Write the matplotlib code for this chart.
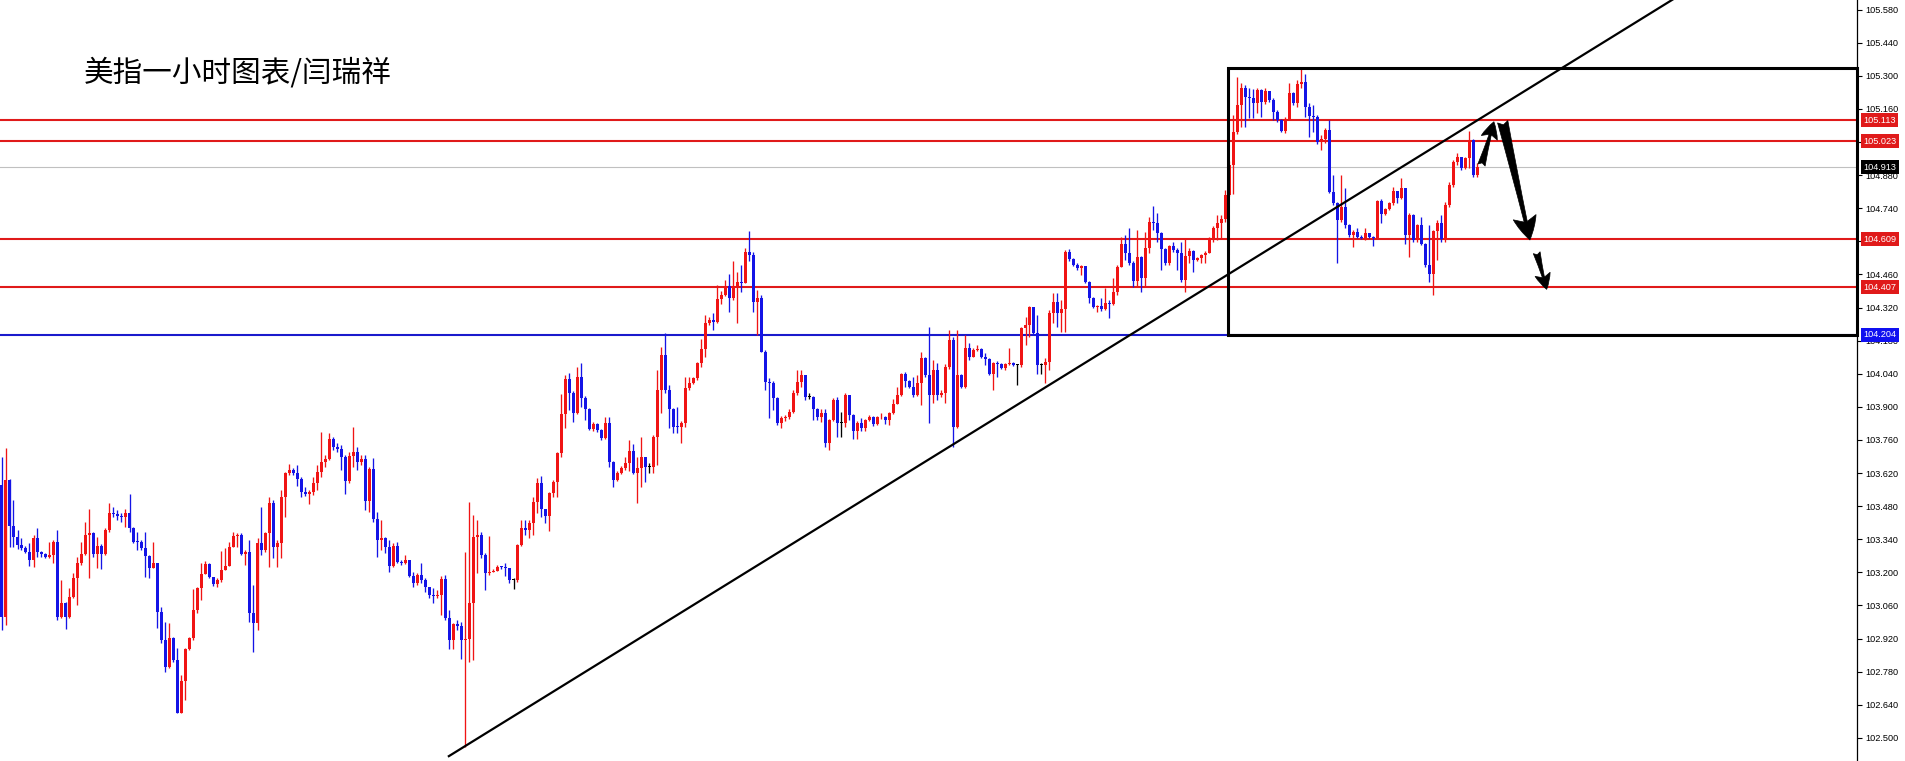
import matplotlib
matplotlib.use("Agg")
import matplotlib.pyplot as plt
from matplotlib.patches import Rectangle
from matplotlib.transforms import blended_transform_factory

TITLE = "美指一小时图表/闫瑞祥"

OPEN0 = 103.569
CLOSES = [
    103.013, 103.591, 103.396, 103.348, 103.316, 103.304, 103.287, 103.252, 103.344, 103.287,
    103.278, 103.266, 103.273, 103.327, 103.013, 103.069, 103.010, 103.097, 103.175, 103.238,
    103.278, 103.358, 103.368, 103.278, 103.313, 103.278, 103.379, 103.452, 103.447, 103.438,
    103.433, 103.450, 103.386, 103.330, 103.327, 103.302, 103.270, 103.217, 103.238, 103.034,
    102.914, 102.801, 102.921, 102.829, 102.606, 102.740, 102.874, 102.921, 103.041, 103.132,
    103.193, 103.235, 103.182, 103.151, 103.168, 103.210, 103.227, 103.309, 103.354, 103.358,
    103.276, 103.287, 103.027, 102.987, 103.326, 103.294, 103.365, 103.492, 103.309, 103.323,
    103.520, 103.619, 103.633, 103.622, 103.595, 103.541, 103.531, 103.538, 103.577, 103.626,
    103.668, 103.678, 103.764, 103.732, 103.720, 103.689, 103.588, 103.692, 103.710, 103.668,
    103.678, 103.503, 103.637, 103.427, 103.337, 103.344, 103.309, 103.228, 103.313, 103.245,
    103.241, 103.252, 103.186, 103.154, 103.189, 103.168, 103.137, 103.104, 103.100, 103.104,
    103.170, 103.005, 102.914, 102.981, 102.973, 102.914, 102.918, 103.072, 103.351, 103.358,
    103.273, 103.196, 103.203, 103.207, 103.224, 103.221, 103.217, 103.168, 103.168, 103.316,
    103.386, 103.379, 103.410, 103.499, 103.577, 103.467, 103.438, 103.534, 103.584, 103.703,
    103.868, 104.016, 103.960, 103.875, 104.025, 103.936, 103.890, 103.805, 103.827, 103.802,
    103.767, 103.830, 103.668, 103.591, 103.622, 103.640, 103.661, 103.713, 103.622, 103.640,
    103.687, 103.647, 103.647, 103.774, 103.971, 104.119, 103.971, 103.890, 103.816, 103.813,
    103.830, 103.978, 103.999, 104.021, 104.084, 104.143, 104.253, 104.267, 104.260, 104.357,
    104.374, 104.413, 104.362, 104.413, 104.430, 104.423, 104.554, 104.543, 104.343, 104.360,
    104.134, 104.007, 104.002, 103.936, 103.830, 103.851, 103.858, 103.880, 103.957, 104.006,
    104.034, 103.943, 103.943, 103.893, 103.858, 103.872, 103.748, 103.844, 103.929, 103.830,
    103.830, 103.950, 103.865, 103.799, 103.830, 103.809, 103.844, 103.858, 103.827, 103.855,
    103.858, 103.844, 103.875, 103.914, 103.950, 104.039, 104.010, 103.985, 103.950, 103.999,
    104.105, 104.034, 103.950, 104.058, 103.950, 103.957, 104.070, 104.182, 103.816, 104.035,
    103.985, 104.148, 104.113, 104.141, 104.143, 104.113, 104.101, 104.041, 104.084, 104.081,
    104.063, 104.081, 104.084, 104.077, 104.077, 104.232, 104.246, 104.321, 104.211, 104.077,
    104.077, 104.091, 104.298, 104.345, 104.295, 104.312, 104.553, 104.524, 104.500, 104.486,
    104.495, 104.429, 104.359, 104.321, 104.326, 104.312, 104.338, 104.335, 104.387, 104.493,
    104.591, 104.552, 104.510, 104.433, 104.535, 104.443, 104.570, 104.683, 104.676, 104.637,
    104.566, 104.507, 104.580, 104.563, 104.549, 104.436, 104.538, 104.559, 104.521, 104.528,
    104.542, 104.552, 104.613, 104.655, 104.676, 104.693, 104.796, 104.923, 105.061, 105.177,
    105.250, 105.212, 105.208, 105.184, 105.240, 105.188, 105.236, 105.198, 105.148, 105.113,
    105.067, 105.117, 105.226, 105.184, 105.264, 105.275, 105.169, 105.131, 105.127, 105.021,
    105.035, 105.071, 104.810, 104.761, 104.690, 104.747, 104.669, 104.627, 104.641, 104.620,
    104.615, 104.634, 104.620, 104.613, 104.770, 104.714, 104.737, 104.761, 104.813, 104.782,
    104.824, 104.627, 104.711, 104.605, 104.669, 104.591, 104.500, 104.464, 104.644, 104.676,
    104.610, 104.754, 104.838, 104.937, 104.958, 104.909, 104.951, 105.028, 104.880, 104.913,
]
HIGHS = [
    103.689, 103.725, 103.595, 103.506, 103.379, 103.344, 103.311, 103.323, 103.358, 103.386,
    103.290, 103.282, 103.330, 103.335, 103.379, 103.168, 103.076, 103.132, 103.199, 103.266,
    103.330, 103.414, 103.467, 103.372, 103.351, 103.320, 103.386, 103.492, 103.475, 103.464,
    103.450, 103.467, 103.530, 103.393, 103.372, 103.337, 103.372, 103.273, 103.327, 103.241,
    103.052, 102.991, 102.987, 102.928, 102.879, 102.766, 102.879, 102.928, 103.128, 103.139,
    103.241, 103.249, 103.238, 103.182, 103.175, 103.292, 103.302, 103.330, 103.372, 103.365,
    103.365, 103.294, 103.337, 103.146, 103.344, 103.478, 103.372, 103.520, 103.506, 103.337,
    103.548, 103.626, 103.657, 103.640, 103.654, 103.605, 103.562, 103.548, 103.605, 103.654,
    103.792, 103.696, 103.788, 103.771, 103.749, 103.739, 103.696, 103.710, 103.813, 103.732,
    103.696, 103.696, 103.647, 103.682, 103.457, 103.421, 103.351, 103.337, 103.323, 103.330,
    103.252, 103.273, 103.252, 103.203, 103.196, 103.238, 103.175, 103.139, 103.132, 103.125,
    103.185, 103.189, 103.041, 102.987, 102.998, 102.991, 103.287, 103.499, 103.443, 103.421,
    103.370, 103.280, 103.354, 103.215, 103.230, 103.228, 103.238, 103.220, 103.176, 103.320,
    103.421, 103.421, 103.420, 103.520, 103.598, 103.608, 103.470, 103.540, 103.591, 103.710,
    103.953, 104.035, 104.045, 103.965, 104.070, 104.084, 103.945, 103.895, 103.835, 103.830,
    103.805, 103.859, 103.859, 103.670, 103.630, 103.648, 103.689, 103.760, 103.743, 103.689,
    103.774, 103.690, 103.661, 103.780, 104.056, 104.155, 104.211, 103.992, 103.895, 103.900,
    103.840, 104.028, 104.025, 104.028, 104.090, 104.186, 104.289, 104.281, 104.295, 104.416,
    104.388, 104.437, 104.461, 104.517, 104.472, 104.498, 104.571, 104.644, 104.555, 104.395,
    104.375, 104.140, 104.020, 104.010, 103.940, 103.860, 103.865, 103.890, 103.971, 104.056,
    104.056, 104.034, 103.957, 103.945, 103.895, 103.893, 103.893, 103.850, 103.936, 103.943,
    103.879, 103.957, 103.950, 103.870, 103.840, 103.851, 103.850, 103.865, 103.860, 103.860,
    103.872, 103.862, 103.880, 103.935, 103.985, 104.042, 104.048, 104.012, 104.027, 104.034,
    104.133, 104.112, 104.239, 104.098, 104.084, 103.971, 104.080, 104.225, 104.197, 104.225,
    104.040, 104.204, 104.169, 104.148, 104.162, 104.150, 104.126, 104.105, 104.090, 104.095,
    104.085, 104.086, 104.147, 104.088, 104.082, 104.239, 104.281, 104.328, 104.321, 104.288,
    104.085, 104.105, 104.310, 104.380, 104.380, 104.352, 104.563, 104.566, 104.528, 104.507,
    104.500, 104.497, 104.433, 104.365, 104.330, 104.360, 104.401, 104.350, 104.443, 104.500,
    104.620, 104.627, 104.655, 104.515, 104.648, 104.540, 104.641, 104.704, 104.749, 104.718,
    104.640, 104.570, 104.584, 104.598, 104.570, 104.598, 104.613, 104.570, 104.562, 104.535,
    104.548, 104.560, 104.620, 104.665, 104.711, 104.711, 104.817, 104.940, 105.134, 105.296,
    105.268, 105.261, 105.247, 105.244, 105.247, 105.245, 105.247, 105.219, 105.205, 105.155,
    105.118, 105.125, 105.268, 105.230, 105.282, 105.332, 105.306, 105.184, 105.177, 105.134,
    105.050, 105.078, 105.113, 104.880, 104.766, 104.880, 104.824, 104.672, 104.650, 104.655,
    104.625, 104.655, 104.637, 104.622, 104.775, 104.778, 104.740, 104.768, 104.831, 104.815,
    104.866, 104.826, 104.720, 104.715, 104.675, 104.704, 104.595, 104.669, 104.650, 104.690,
    104.711, 104.768, 104.852, 104.944, 104.972, 104.958, 104.958, 105.067, 105.035, 104.930,
]
LOWS = [
    102.956, 102.977, 103.309, 103.309, 103.297, 103.294, 103.283, 103.228, 103.224, 103.266,
    103.266, 103.260, 103.259, 103.238, 102.998, 103.006, 102.959, 103.006, 103.090, 103.062,
    103.231, 103.273, 103.175, 103.266, 103.217, 103.213, 103.273, 103.372, 103.436, 103.421,
    103.414, 103.393, 103.372, 103.323, 103.294, 103.294, 103.182, 103.175, 103.224, 102.963,
    102.900, 102.780, 102.794, 102.822, 102.606, 102.606, 102.660, 102.871, 102.914, 103.027,
    103.083, 103.196, 103.175, 103.142, 103.139, 103.161, 103.210, 103.227, 103.309, 103.309,
    103.273, 103.231, 102.991, 102.865, 102.956, 103.273, 103.287, 103.224, 103.259, 103.224,
    103.259, 103.435, 103.612, 103.612, 103.565, 103.520, 103.523, 103.489, 103.527, 103.548,
    103.605, 103.647, 103.675, 103.718, 103.710, 103.633, 103.530, 103.577, 103.647, 103.633,
    103.654, 103.464, 103.457, 103.414, 103.266, 103.294, 103.280, 103.203, 103.224, 103.238,
    103.231, 103.235, 103.182, 103.139, 103.146, 103.154, 103.118, 103.090, 103.069, 103.090,
    103.020, 102.998, 102.874, 102.874, 102.956, 102.832, 102.463, 102.822, 102.829, 103.196,
    103.260, 103.125, 103.190, 103.200, 103.205, 103.215, 103.185, 103.154, 103.128, 103.160,
    103.310, 103.358, 103.344, 103.358, 103.450, 103.436, 103.410, 103.375, 103.520, 103.520,
    103.690, 103.809, 103.887, 103.837, 103.870, 103.900, 103.844, 103.802, 103.800, 103.795,
    103.760, 103.762, 103.647, 103.562, 103.588, 103.615, 103.635, 103.630, 103.615, 103.492,
    103.562, 103.584, 103.619, 103.619, 103.654, 103.873, 103.960, 103.809, 103.788, 103.788,
    103.749, 103.816, 103.970, 103.995, 104.014, 104.070, 104.112, 104.245, 104.225, 104.254,
    104.334, 104.367, 104.303, 104.352, 104.254, 104.385, 104.430, 104.515, 104.303, 104.204,
    104.130, 103.971, 103.852, 103.887, 103.823, 103.809, 103.840, 103.850, 103.875, 103.950,
    103.985, 103.929, 103.935, 103.844, 103.844, 103.837, 103.731, 103.717, 103.840, 103.774,
    103.774, 103.816, 103.844, 103.766, 103.766, 103.800, 103.800, 103.840, 103.820, 103.822,
    103.850, 103.827, 103.823, 103.870, 103.910, 103.945, 103.985, 103.978, 103.943, 103.945,
    103.907, 104.027, 103.830, 103.915, 103.929, 103.940, 103.915, 104.060, 103.731, 103.810,
    103.978, 103.980, 104.098, 104.126, 104.135, 104.105, 104.077, 104.034, 103.971, 104.027,
    104.060, 104.058, 104.078, 104.072, 103.992, 104.070, 104.162, 104.197, 104.205, 104.041,
    104.041, 104.000, 104.055, 104.253, 104.239, 104.218, 104.218, 104.515, 104.495, 104.478,
    104.457, 104.422, 104.338, 104.320, 104.300, 104.305, 104.310, 104.274, 104.330, 104.373,
    104.490, 104.521, 104.500, 104.408, 104.408, 104.387, 104.408, 104.550, 104.648, 104.598,
    104.479, 104.500, 104.500, 104.556, 104.479, 104.430, 104.387, 104.507, 104.472, 104.515,
    104.507, 104.507, 104.549, 104.598, 104.606, 104.612, 104.680, 104.790, 104.800, 105.055,
    105.085, 105.085, 105.120, 105.120, 105.141, 105.127, 105.180, 105.190, 105.113, 105.106,
    105.064, 105.057, 105.113, 105.175, 105.170, 105.247, 105.127, 105.043, 105.064, 105.014,
    104.986, 105.018, 104.803, 104.755, 104.507, 104.683, 104.655, 104.620, 104.577, 104.615,
    104.610, 104.605, 104.615, 104.581, 104.610, 104.676, 104.710, 104.733, 104.754, 104.761,
    104.778, 104.591, 104.535, 104.598, 104.598, 104.584, 104.493, 104.429, 104.373, 104.521,
    104.598, 104.598, 104.745, 104.830, 104.923, 104.902, 104.905, 104.909, 104.873, 104.873,
]

RED_LEVELS = [105.113, 105.023, 104.609, 104.407]
BLUE_LEVEL = 104.204
BID_LEVEL = 104.913
BOX_LEFT = 306.6
BOX_BOTTOM = 104.204
BOX_TOP = 105.332
TREND_START = (111.6, 102.420)
TREND_THROUGH = (370.0, 105.123)
ARROWS = [  # (tail, tip, size)
    ((370.0, 104.923), (373.1, 105.106), 30),
    ((375.3, 105.106), (382.1, 104.606), 42),
    ((383.8, 104.552), (386.3, 104.397), 28),
]
TICKS = [105.580, 105.440, 105.300, 105.160, 105.020, 104.880, 104.740, 104.600,
         104.460, 104.320, 104.180, 104.040, 103.900, 103.760, 103.620, 103.480,
         103.340, 103.200, 103.060, 102.920, 102.780, 102.640, 102.500]

BULL = "#f01414"
BEAR = "#1414e6"
RED_LINE = "#e01a1a"
BLUE_LINE = "#1a1acc"

W, H = 1906, 761
fig = plt.figure(figsize=(W / 100, H / 100), dpi=100)
fig.patch.set_facecolor("white")
ax = fig.add_axes([0, 0, 1857 / W, 1])
ax.set_xlim(-0.375, 463.875)
ax.set_ylim(102.402, 105.621)

n = min(len(CLOSES), len(HIGHS), len(LOWS))
opens = [OPEN0] + CLOSES[:n - 1]
ks, bottoms, heights, cols, his, los = [], [], [], [], [], []
for k in range(n):
    o, c = opens[k], CLOSES[k]
    h = max(HIGHS[k], o, c)
    l = min(LOWS[k], o, c)
    if c > o:
        col = BULL
    elif c < o:
        col = BEAR
    else:
        col = "black"
    ks.append(k)
    bottoms.append(min(o, c))
    heights.append(max(abs(c - o), 0.004))
    cols.append(col)
    his.append(h)
    los.append(l)

ax.vlines(ks, los, his, colors=cols, linewidth=0.95, zorder=3)
ax.bar(ks, heights, bottom=bottoms, width=0.8, color=cols, linewidth=0, zorder=4)

# horizontal levels
for lv in RED_LEVELS:
    ax.axhline(lv, color=RED_LINE, linewidth=1.5, zorder=2)
ax.axhline(BLUE_LEVEL, color=BLUE_LINE, linewidth=1.5, zorder=2)
ax.axhline(BID_LEVEL, color="#c0c0c0", linewidth=0.8, zorder=1)

# trend line (ray from its start point)
xr = ax.get_xlim()[1]
slope = (TREND_THROUGH[1] - TREND_START[1]) / (TREND_THROUGH[0] - TREND_START[0])
ax.plot([TREND_START[0], xr], [TREND_START[1], TREND_START[1] + slope * (xr - TREND_START[0])],
        color="black", linewidth=1.6, zorder=5, solid_capstyle="butt")

# box
ax.add_patch(Rectangle((BOX_LEFT, BOX_BOTTOM), xr - BOX_LEFT, BOX_TOP - BOX_BOTTOM,
                       fill=False, edgecolor="black", linewidth=2.2, zorder=6, clip_on=False))

# arrows
for tail, tip, ms in ARROWS:
    ax.annotate("", xy=tip, xytext=tail,
                arrowprops=dict(arrowstyle="fancy,head_length=0.4,head_width=0.4,tail_width=0.18",
                                fc="black", ec="black", shrinkA=0, shrinkB=0,
                                mutation_scale=ms, lw=0.5),
                zorder=7)

# axes styling
for s in ["left", "top", "bottom"]:
    ax.spines[s].set_visible(False)
ax.spines["right"].set_color("black")
ax.spines["right"].set_linewidth(0.9)
ax.set_xticks([])
ax.yaxis.tick_right()
ax.set_yticks(TICKS)
ax.set_yticklabels([f"{t:.3f}" for t in TICKS], fontsize=6.6, family="Liberation Sans")
ax.tick_params(axis="y", direction="out", length=3.5, width=0.8, pad=2.5, colors="black")

trans = blended_transform_factory(ax.transAxes, ax.transData)
labels = [(lv, RED_LINE) for lv in RED_LEVELS] + [(BLUE_LEVEL, "#1010f0"), (BID_LEVEL, "black")]
for lv, col in labels:
    ax.text(1.0034, lv, f"{lv:.3f}", transform=trans, ha="left", va="center",
            color="white", fontsize=6.6, family="Liberation Sans", zorder=20, clip_on=False,
            bbox=dict(boxstyle="square,pad=0.28", fc=col, ec="none"))

fig.text(84 / W, 1 - 73 / H, TITLE, fontsize=21.3, ha="left", va="center",
         family=["Noto Sans CJK SC", "DejaVu Sans"], color="black")

fig.savefig("out.png", dpi=100, facecolor="white")
